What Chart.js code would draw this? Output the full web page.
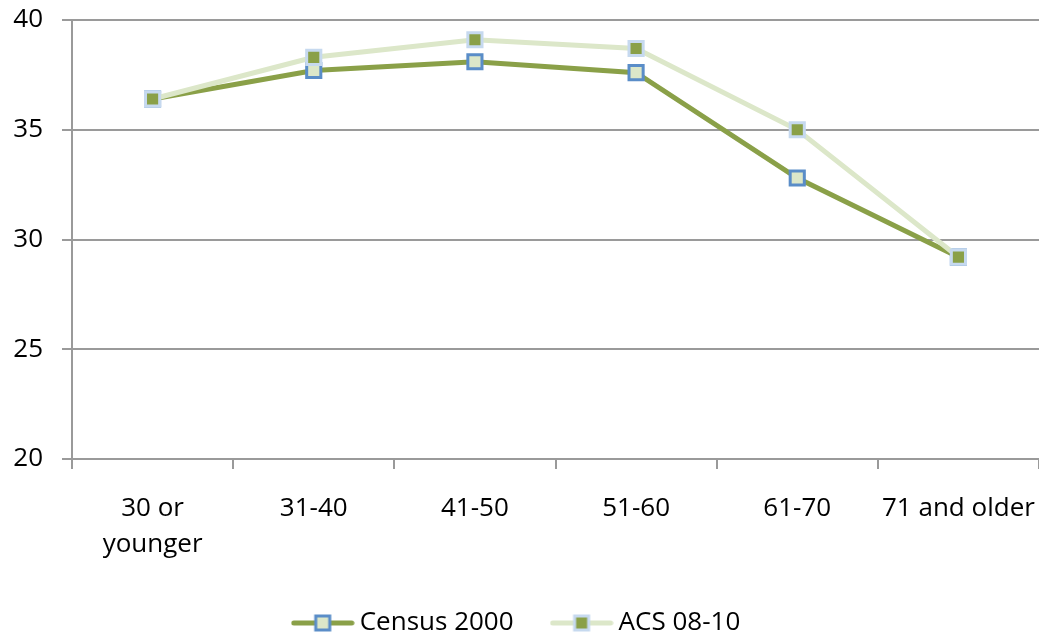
<!DOCTYPE html>
<html>
<head>
<meta charset="utf-8">
<script src="https://cdn.jsdelivr.net/npm/chart.js@4"></script>
<style>
  body { margin: 0; background: #fff; }
  #wrap { width: 1039px; height: 637px; }
</style>
</head>
<body>
<div id="wrap"><canvas id="grafico"></canvas></div>
<script>
const categorias = [['30 or', 'younger'], '31-40', '41-50', '51-60', '61-70', '71 and older'];
const census2000 = [36.4, 37.7, 38.1, 37.6, 32.8, 29.2];
const acs0810 = [36.4, 38.3, 39.1, 38.7, 35.0, 29.2];
const yTicks = [20, 25, 30, 35, 40];

const verdeEscuro = '#8aa048';
const verdeClaro = '#dce7c9';
const azul = '#5a8dc8';
const azulClaro = '#c6d9ef';
const cinza = '#9a9a9a';
const fonte = "'Open Sans', 'Liberation Sans', sans-serif";

// icone da legenda: linha com marcador no meio
function iconeLegenda(corLinha, corFundo, corBorda) {
  let c = document.createElement('canvas');
  c.width = 64; c.height = 20;
  let ctx = c.getContext('2d');
  ctx.strokeStyle = corLinha;
  ctx.lineWidth = 5;
  ctx.lineCap = 'round';
  ctx.beginPath();
  ctx.moveTo(3, 10); ctx.lineTo(61, 10);
  ctx.stroke();
  ctx.fillStyle = corFundo;
  ctx.fillRect(25, 3, 14, 14);
  ctx.strokeStyle = corBorda;
  ctx.lineWidth = 3;
  ctx.strokeRect(25, 3, 14, 14);
  return c;
}

const icones = [
  iconeLegenda(verdeEscuro, verdeClaro, azul),
  iconeLegenda(verdeClaro, verdeEscuro, azulClaro)
];

let ctx = document.getElementById('grafico').getContext('2d');

new Chart(ctx, {
  type: 'line',
  data: {
    labels: categorias,
    datasets: [{
      label: 'Census 2000',
      data: census2000,
      borderColor: verdeEscuro,
      borderWidth: 5,
      pointStyle: 'rect',
      pointRadius: 10,
      pointBorderWidth: 3,
      pointBackgroundColor: verdeClaro,
      pointBorderColor: azul,
      tension: 0,
      order: 2
    }, {
      label: 'ACS 08-10',
      data: acs0810,
      borderColor: verdeClaro,
      borderWidth: 5,
      pointStyle: 'rect',
      pointRadius: 10,
      pointBorderWidth: 3,
      pointBackgroundColor: verdeEscuro,
      pointBorderColor: azulClaro,
      tension: 0,
      order: 1
    }]
  },
  options: {
    responsive: true,
    maintainAspectRatio: false,
    animation: false,
    layout: { autoPadding: false, padding: { top: 20, right: 0, left: 0, bottom: -9 } },
    plugins: {
      tooltip: { enabled: false },
      legend: {
        position: 'bottom',
        labels: {
          usePointStyle: true,
          pointStyleWidth: 48,
          boxHeight: 20,
          padding: 44,
          color: '#000',
          font: { family: fonte, size: 26 },
          generateLabels: (chart) => chart.data.datasets.map((ds, i) => ({
            text: ds.label,
            pointStyle: icones[i],
            fillStyle: ds.borderColor,
            strokeStyle: ds.borderColor,
            lineWidth: 0,
            hidden: false,
            datasetIndex: i,
            fontColor: '#000'
          }))
        }
      }
    },
    scales: {
      x: {
        offset: true,
        afterFit: (s) => { s.height = 107; s.paddingLeft = 0; s.paddingRight = 0; },
        grid: {
          offset: true,
          drawOnChartArea: false,
          drawTicks: true,
          tickLength: 10,
          color: cinza,
          lineWidth: 2
        },
        border: { color: cinza, width: 2 },
        ticks: {
          color: '#000',
          padding: 22,
          maxRotation: 0,
          autoSkip: false,
          font: { family: fonte, size: 26, lineHeight: 1.38 }
        }
      },
      y: {
        min: 20,
        max: 40,
        afterFit: (s) => { s.width = 72; s.paddingTop = 0; s.paddingBottom = 0; },
        afterBuildTicks: (s) => { s.ticks = yTicks.map(v => ({ value: v })); },
        grid: {
          drawTicks: true,
          tickLength: 10,
          color: cinza,
          lineWidth: 2
        },
        border: { color: cinza, width: 2 },
        ticks: {
          color: '#000',
          padding: 19,
          font: { family: fonte, size: 26 }
        }
      }
    }
  }
});
</script>
</body>
</html>
